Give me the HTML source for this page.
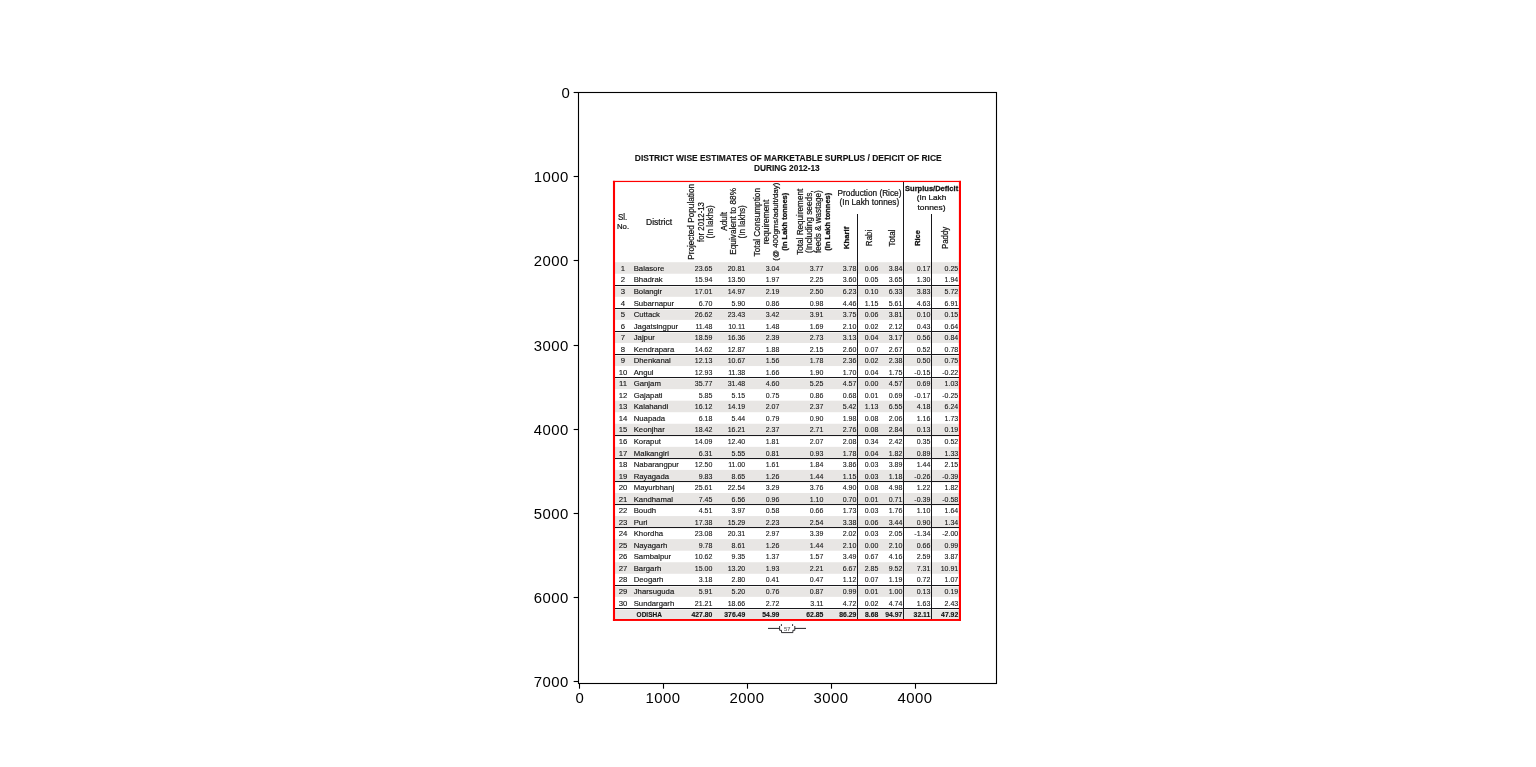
<!DOCTYPE html>
<html lang="en">
<head>
<meta charset="utf-8">
<title>Figure 1</title>
<style>
html,body{margin:0;padding:0;background:#fff;overflow:hidden}
body{width:1536px;height:767px;font-family:"Liberation Sans", sans-serif}
svg{display:block;position:absolute;left:0;top:0}
svg text{font-family:"Liberation Sans", sans-serif;white-space:pre}
</style>
</head>
<body>
<svg style="will-change:transform" width="1536" height="767" viewBox="0 0 1536 767">
<rect x="0" y="0" width="1536" height="767" fill="#fff"/>
<rect x="614.0" y="262.20" width="346.0" height="11.54" fill="#e8e6e4"/>
<rect x="614.0" y="285.28" width="346.0" height="11.54" fill="#e8e6e4"/>
<rect x="614.0" y="308.36" width="346.0" height="11.54" fill="#e8e6e4"/>
<rect x="614.0" y="331.44" width="346.0" height="11.54" fill="#e8e6e4"/>
<rect x="614.0" y="354.52" width="346.0" height="11.54" fill="#e8e6e4"/>
<rect x="614.0" y="377.60" width="346.0" height="11.54" fill="#e8e6e4"/>
<rect x="614.0" y="400.68" width="346.0" height="11.54" fill="#e8e6e4"/>
<rect x="614.0" y="423.76" width="346.0" height="11.54" fill="#e8e6e4"/>
<rect x="614.0" y="446.84" width="346.0" height="11.54" fill="#e8e6e4"/>
<rect x="614.0" y="469.92" width="346.0" height="11.54" fill="#e8e6e4"/>
<rect x="614.0" y="493.00" width="346.0" height="11.54" fill="#e8e6e4"/>
<rect x="614.0" y="516.08" width="346.0" height="11.54" fill="#e8e6e4"/>
<rect x="614.0" y="539.16" width="346.0" height="11.54" fill="#e8e6e4"/>
<rect x="614.0" y="562.24" width="346.0" height="11.54" fill="#e8e6e4"/>
<rect x="614.0" y="585.32" width="346.0" height="11.54" fill="#e8e6e4"/>
<rect x="614.0" y="608.40" width="346.0" height="11.60" fill="#e8e6e4"/>
<rect x="615" y="285" width="344" height="1" fill="#18181c" shape-rendering="crispEdges"/>
<rect x="615" y="286" width="344" height="1.1" fill="#f5f4f2" shape-rendering="crispEdges"/>
<rect x="615" y="308" width="344" height="1" fill="#18181c" shape-rendering="crispEdges"/>
<rect x="615" y="309" width="344" height="1.1" fill="#f5f4f2" shape-rendering="crispEdges"/>
<rect x="615" y="331" width="344" height="1" fill="#18181c" shape-rendering="crispEdges"/>
<rect x="615" y="332" width="344" height="1.1" fill="#f5f4f2" shape-rendering="crispEdges"/>
<rect x="615" y="354" width="344" height="1" fill="#18181c" shape-rendering="crispEdges"/>
<rect x="615" y="355" width="344" height="1.1" fill="#f5f4f2" shape-rendering="crispEdges"/>
<rect x="615" y="377" width="344" height="1" fill="#18181c" shape-rendering="crispEdges"/>
<rect x="615" y="378" width="344" height="1.1" fill="#f5f4f2" shape-rendering="crispEdges"/>
<rect x="615" y="435" width="344" height="1" fill="#18181c" shape-rendering="crispEdges"/>
<rect x="615" y="436" width="344" height="1.1" fill="#f5f4f2" shape-rendering="crispEdges"/>
<rect x="615" y="458" width="344" height="1" fill="#18181c" shape-rendering="crispEdges"/>
<rect x="615" y="459" width="344" height="1.1" fill="#f5f4f2" shape-rendering="crispEdges"/>
<rect x="615" y="481" width="344" height="1" fill="#18181c" shape-rendering="crispEdges"/>
<rect x="615" y="482" width="344" height="1.1" fill="#f5f4f2" shape-rendering="crispEdges"/>
<rect x="615" y="504" width="344" height="1" fill="#18181c" shape-rendering="crispEdges"/>
<rect x="615" y="505" width="344" height="1.1" fill="#f5f4f2" shape-rendering="crispEdges"/>
<rect x="615" y="527" width="344" height="1" fill="#18181c" shape-rendering="crispEdges"/>
<rect x="615" y="528" width="344" height="1.1" fill="#f5f4f2" shape-rendering="crispEdges"/>
<rect x="615" y="585" width="344" height="1" fill="#18181c" shape-rendering="crispEdges"/>
<rect x="615" y="586" width="344" height="1.1" fill="#f5f4f2" shape-rendering="crispEdges"/>
<rect x="615" y="608" width="344" height="1" fill="#18181c" shape-rendering="crispEdges"/>
<rect x="615" y="609" width="344" height="1.1" fill="#f5f4f2" shape-rendering="crispEdges"/>
<rect x="857" y="214" width="1" height="406" fill="#18181c" shape-rendering="crispEdges"/>
<rect x="903" y="182" width="1" height="438" fill="#18181c" shape-rendering="crispEdges"/>
<rect x="931" y="214" width="1" height="406" fill="#18181c" shape-rendering="crispEdges"/>
<text transform="translate(788.20,160.70)" font-size="8.5" text-anchor="middle" fill="#141414" font-weight="700" stroke="#141414" stroke-width="0.12" textLength="306.80" lengthAdjust="spacingAndGlyphs">DISTRICT WISE ESTIMATES OF MARKETABLE SURPLUS / DEFICIT OF RICE</text>
<text transform="translate(786.80,170.70)" font-size="8.5" text-anchor="middle" fill="#141414" font-weight="700" stroke="#141414" stroke-width="0.12" textLength="65.80" lengthAdjust="spacingAndGlyphs">DURING 2012-13</text>
<text transform="translate(617.90,220.00)" font-size="8.2" text-anchor="start" fill="#141414" stroke="#141414" stroke-width="0.22" textLength="9.30" lengthAdjust="spacingAndGlyphs">Sl.</text>
<text transform="translate(617.00,229.00)" font-size="7.4" text-anchor="start" fill="#141414" stroke="#141414" stroke-width="0.22" textLength="12.10" lengthAdjust="spacingAndGlyphs">No.</text>
<text transform="translate(646.00,224.90)" font-size="8.2" text-anchor="start" fill="#141414" stroke="#141414" stroke-width="0.22" textLength="26.00" lengthAdjust="spacingAndGlyphs">District</text>
<text transform="translate(693.80,221.90) rotate(-90)" font-size="8.2" text-anchor="middle" fill="#141414" stroke="#141414" stroke-width="0.22" textLength="75.90" lengthAdjust="spacingAndGlyphs">Projected Population</text>
<text transform="translate(703.50,222.00) rotate(-90)" font-size="8.2" text-anchor="middle" fill="#141414" stroke="#141414" stroke-width="0.22" textLength="39.90" lengthAdjust="spacingAndGlyphs">for 2012-13</text>
<text transform="translate(713.20,221.80) rotate(-90)" font-size="8.2" text-anchor="middle" fill="#141414" stroke="#141414" stroke-width="0.22" textLength="33.20" lengthAdjust="spacingAndGlyphs">(In lakhs)</text>
<text transform="translate(726.70,221.40) rotate(-90)" font-size="8.2" text-anchor="middle" fill="#141414" stroke="#141414" stroke-width="0.22" textLength="18.80" lengthAdjust="spacingAndGlyphs">Adult</text>
<text transform="translate(736.10,221.40) rotate(-90)" font-size="8.2" text-anchor="middle" fill="#141414" stroke="#141414" stroke-width="0.22" textLength="66.80" lengthAdjust="spacingAndGlyphs">Equivalent to 88%</text>
<text transform="translate(745.30,221.80) rotate(-90)" font-size="8.2" text-anchor="middle" fill="#141414" stroke="#141414" stroke-width="0.22" textLength="33.20" lengthAdjust="spacingAndGlyphs">(In lakhs)</text>
<text transform="translate(759.50,222.20) rotate(-90)" font-size="8.2" text-anchor="middle" fill="#141414" stroke="#141414" stroke-width="0.22" textLength="68.40" lengthAdjust="spacingAndGlyphs">Total Consumption</text>
<text transform="translate(768.90,222.00) rotate(-90)" font-size="8.2" text-anchor="middle" fill="#141414" stroke="#141414" stroke-width="0.22" textLength="44.60" lengthAdjust="spacingAndGlyphs">requirement</text>
<text transform="translate(778.30,221.70) rotate(-90)" font-size="7.5" text-anchor="middle" fill="#141414" stroke="#141414" stroke-width="0.22" textLength="78.00" lengthAdjust="spacingAndGlyphs">(@ 400gms/adult/day)</text>
<text transform="translate(787.30,221.70) rotate(-90)" font-size="7.5" text-anchor="middle" fill="#141414" font-weight="700" stroke="#141414" stroke-width="0.3" textLength="58.00" lengthAdjust="spacingAndGlyphs">(In Lakh tonnes)</text>
<text transform="translate(802.60,221.80) rotate(-90)" font-size="8.2" text-anchor="middle" fill="#141414" stroke="#141414" stroke-width="0.22" textLength="66.00" lengthAdjust="spacingAndGlyphs">Total Requirement</text>
<text transform="translate(812.00,221.70) rotate(-90)" font-size="8.2" text-anchor="middle" fill="#141414" stroke="#141414" stroke-width="0.22" textLength="62.70" lengthAdjust="spacingAndGlyphs">(Including seeds,</text>
<text transform="translate(820.50,221.70) rotate(-90)" font-size="8.2" text-anchor="middle" fill="#141414" stroke="#141414" stroke-width="0.22" textLength="62.70" lengthAdjust="spacingAndGlyphs">feeds &amp; wastage)</text>
<text transform="translate(829.60,221.70) rotate(-90)" font-size="7.5" text-anchor="middle" fill="#141414" font-weight="700" stroke="#141414" stroke-width="0.3" textLength="58.00" lengthAdjust="spacingAndGlyphs">(In Lakh tonnes)</text>
<text transform="translate(848.80,237.90) rotate(-90)" font-size="7.5" text-anchor="middle" fill="#141414" font-weight="700" stroke="#141414" stroke-width="0.3" textLength="22.30" lengthAdjust="spacingAndGlyphs">Kharif</text>
<text transform="translate(871.70,237.90) rotate(-90)" font-size="8.2" text-anchor="middle" fill="#141414" stroke="#141414" stroke-width="0.22" textLength="16.50" lengthAdjust="spacingAndGlyphs">Rabi</text>
<text transform="translate(894.50,238.00) rotate(-90)" font-size="8.2" text-anchor="middle" fill="#141414" stroke="#141414" stroke-width="0.22" textLength="16.80" lengthAdjust="spacingAndGlyphs">Total</text>
<text transform="translate(920.40,238.00) rotate(-90)" font-size="7.5" text-anchor="middle" fill="#141414" font-weight="700" stroke="#141414" stroke-width="0.3" textLength="15.60" lengthAdjust="spacingAndGlyphs">Rice</text>
<text transform="translate(947.90,237.90) rotate(-90)" font-size="8.2" text-anchor="middle" fill="#141414" stroke="#141414" stroke-width="0.22" textLength="22.30" lengthAdjust="spacingAndGlyphs">Paddy</text>
<text transform="translate(869.50,196.20)" font-size="8.2" text-anchor="middle" fill="#141414" stroke="#141414" stroke-width="0.22" textLength="63.80" lengthAdjust="spacingAndGlyphs">Production (Rice)</text>
<text transform="translate(869.40,205.00)" font-size="8.2" text-anchor="middle" fill="#141414" stroke="#141414" stroke-width="0.22" textLength="59.60" lengthAdjust="spacingAndGlyphs">(In Lakh tonnes)</text>
<text transform="translate(931.60,190.70)" font-size="7.8" text-anchor="middle" fill="#141414" font-weight="700" stroke="#141414" stroke-width="0.3" textLength="53.10" lengthAdjust="spacingAndGlyphs">Surplus/Deficit</text>
<text transform="translate(931.50,200.30)" font-size="7.2" text-anchor="middle" fill="#141414" stroke="#141414" stroke-width="0.22" textLength="29.40" lengthAdjust="spacingAndGlyphs">(In Lakh</text>
<text transform="translate(931.50,209.70)" font-size="7.2" text-anchor="middle" fill="#141414" stroke="#141414" stroke-width="0.22" textLength="28.20" lengthAdjust="spacingAndGlyphs">tonnes)</text>
<text transform="translate(623.00,270.90)" font-size="7.75" text-anchor="middle" fill="#141414" stroke="#141414" stroke-width="0.12">1</text>
<text transform="translate(633.70,270.90)" font-size="7.75" text-anchor="start" fill="#141414" stroke="#141414" stroke-width="0.15">Balasore</text>
<text transform="translate(712.40,270.90) scale(0.905,1)" font-size="7.75" text-anchor="end" fill="#141414" stroke="#141414" stroke-width="0.1">23.65</text>
<text transform="translate(745.20,270.90) scale(0.905,1)" font-size="7.75" text-anchor="end" fill="#141414" stroke="#141414" stroke-width="0.1">20.81</text>
<text transform="translate(779.40,270.90) scale(0.905,1)" font-size="7.75" text-anchor="end" fill="#141414" stroke="#141414" stroke-width="0.1">3.04</text>
<text transform="translate(823.40,270.90) scale(0.905,1)" font-size="7.75" text-anchor="end" fill="#141414" stroke="#141414" stroke-width="0.1">3.77</text>
<text transform="translate(856.40,270.90) scale(0.905,1)" font-size="7.75" text-anchor="end" fill="#141414" stroke="#141414" stroke-width="0.1">3.78</text>
<text transform="translate(878.30,270.90) scale(0.905,1)" font-size="7.75" text-anchor="end" fill="#141414" stroke="#141414" stroke-width="0.1">0.06</text>
<text transform="translate(902.30,270.90) scale(0.905,1)" font-size="7.75" text-anchor="end" fill="#141414" stroke="#141414" stroke-width="0.1">3.84</text>
<text transform="translate(930.30,270.90) scale(0.905,1)" font-size="7.75" text-anchor="end" fill="#141414" stroke="#141414" stroke-width="0.1">0.17</text>
<text transform="translate(958.20,270.90) scale(0.905,1)" font-size="7.75" text-anchor="end" fill="#141414" stroke="#141414" stroke-width="0.1">0.25</text>
<text transform="translate(623.00,282.44)" font-size="7.75" text-anchor="middle" fill="#141414" stroke="#141414" stroke-width="0.12">2</text>
<text transform="translate(633.70,282.44)" font-size="7.75" text-anchor="start" fill="#141414" stroke="#141414" stroke-width="0.15">Bhadrak</text>
<text transform="translate(712.40,282.44) scale(0.905,1)" font-size="7.75" text-anchor="end" fill="#141414" stroke="#141414" stroke-width="0.1">15.94</text>
<text transform="translate(745.20,282.44) scale(0.905,1)" font-size="7.75" text-anchor="end" fill="#141414" stroke="#141414" stroke-width="0.1">13.50</text>
<text transform="translate(779.40,282.44) scale(0.905,1)" font-size="7.75" text-anchor="end" fill="#141414" stroke="#141414" stroke-width="0.1">1.97</text>
<text transform="translate(823.40,282.44) scale(0.905,1)" font-size="7.75" text-anchor="end" fill="#141414" stroke="#141414" stroke-width="0.1">2.25</text>
<text transform="translate(856.40,282.44) scale(0.905,1)" font-size="7.75" text-anchor="end" fill="#141414" stroke="#141414" stroke-width="0.1">3.60</text>
<text transform="translate(878.30,282.44) scale(0.905,1)" font-size="7.75" text-anchor="end" fill="#141414" stroke="#141414" stroke-width="0.1">0.05</text>
<text transform="translate(902.30,282.44) scale(0.905,1)" font-size="7.75" text-anchor="end" fill="#141414" stroke="#141414" stroke-width="0.1">3.65</text>
<text transform="translate(930.30,282.44) scale(0.905,1)" font-size="7.75" text-anchor="end" fill="#141414" stroke="#141414" stroke-width="0.1">1.30</text>
<text transform="translate(958.20,282.44) scale(0.905,1)" font-size="7.75" text-anchor="end" fill="#141414" stroke="#141414" stroke-width="0.1">1.94</text>
<text transform="translate(623.00,293.98)" font-size="7.75" text-anchor="middle" fill="#141414" stroke="#141414" stroke-width="0.12">3</text>
<text transform="translate(633.70,293.98)" font-size="7.75" text-anchor="start" fill="#141414" stroke="#141414" stroke-width="0.15">Bolangir</text>
<text transform="translate(712.40,293.98) scale(0.905,1)" font-size="7.75" text-anchor="end" fill="#141414" stroke="#141414" stroke-width="0.1">17.01</text>
<text transform="translate(745.20,293.98) scale(0.905,1)" font-size="7.75" text-anchor="end" fill="#141414" stroke="#141414" stroke-width="0.1">14.97</text>
<text transform="translate(779.40,293.98) scale(0.905,1)" font-size="7.75" text-anchor="end" fill="#141414" stroke="#141414" stroke-width="0.1">2.19</text>
<text transform="translate(823.40,293.98) scale(0.905,1)" font-size="7.75" text-anchor="end" fill="#141414" stroke="#141414" stroke-width="0.1">2.50</text>
<text transform="translate(856.40,293.98) scale(0.905,1)" font-size="7.75" text-anchor="end" fill="#141414" stroke="#141414" stroke-width="0.1">6.23</text>
<text transform="translate(878.30,293.98) scale(0.905,1)" font-size="7.75" text-anchor="end" fill="#141414" stroke="#141414" stroke-width="0.1">0.10</text>
<text transform="translate(902.30,293.98) scale(0.905,1)" font-size="7.75" text-anchor="end" fill="#141414" stroke="#141414" stroke-width="0.1">6.33</text>
<text transform="translate(930.30,293.98) scale(0.905,1)" font-size="7.75" text-anchor="end" fill="#141414" stroke="#141414" stroke-width="0.1">3.83</text>
<text transform="translate(958.20,293.98) scale(0.905,1)" font-size="7.75" text-anchor="end" fill="#141414" stroke="#141414" stroke-width="0.1">5.72</text>
<text transform="translate(623.00,305.52)" font-size="7.75" text-anchor="middle" fill="#141414" stroke="#141414" stroke-width="0.12">4</text>
<text transform="translate(633.70,305.52)" font-size="7.75" text-anchor="start" fill="#141414" stroke="#141414" stroke-width="0.15">Subarnapur</text>
<text transform="translate(712.40,305.52) scale(0.905,1)" font-size="7.75" text-anchor="end" fill="#141414" stroke="#141414" stroke-width="0.1">6.70</text>
<text transform="translate(745.20,305.52) scale(0.905,1)" font-size="7.75" text-anchor="end" fill="#141414" stroke="#141414" stroke-width="0.1">5.90</text>
<text transform="translate(779.40,305.52) scale(0.905,1)" font-size="7.75" text-anchor="end" fill="#141414" stroke="#141414" stroke-width="0.1">0.86</text>
<text transform="translate(823.40,305.52) scale(0.905,1)" font-size="7.75" text-anchor="end" fill="#141414" stroke="#141414" stroke-width="0.1">0.98</text>
<text transform="translate(856.40,305.52) scale(0.905,1)" font-size="7.75" text-anchor="end" fill="#141414" stroke="#141414" stroke-width="0.1">4.46</text>
<text transform="translate(878.30,305.52) scale(0.905,1)" font-size="7.75" text-anchor="end" fill="#141414" stroke="#141414" stroke-width="0.1">1.15</text>
<text transform="translate(902.30,305.52) scale(0.905,1)" font-size="7.75" text-anchor="end" fill="#141414" stroke="#141414" stroke-width="0.1">5.61</text>
<text transform="translate(930.30,305.52) scale(0.905,1)" font-size="7.75" text-anchor="end" fill="#141414" stroke="#141414" stroke-width="0.1">4.63</text>
<text transform="translate(958.20,305.52) scale(0.905,1)" font-size="7.75" text-anchor="end" fill="#141414" stroke="#141414" stroke-width="0.1">6.91</text>
<text transform="translate(623.00,317.06)" font-size="7.75" text-anchor="middle" fill="#141414" stroke="#141414" stroke-width="0.12">5</text>
<text transform="translate(633.70,317.06)" font-size="7.75" text-anchor="start" fill="#141414" stroke="#141414" stroke-width="0.15">Cuttack</text>
<text transform="translate(712.40,317.06) scale(0.905,1)" font-size="7.75" text-anchor="end" fill="#141414" stroke="#141414" stroke-width="0.1">26.62</text>
<text transform="translate(745.20,317.06) scale(0.905,1)" font-size="7.75" text-anchor="end" fill="#141414" stroke="#141414" stroke-width="0.1">23.43</text>
<text transform="translate(779.40,317.06) scale(0.905,1)" font-size="7.75" text-anchor="end" fill="#141414" stroke="#141414" stroke-width="0.1">3.42</text>
<text transform="translate(823.40,317.06) scale(0.905,1)" font-size="7.75" text-anchor="end" fill="#141414" stroke="#141414" stroke-width="0.1">3.91</text>
<text transform="translate(856.40,317.06) scale(0.905,1)" font-size="7.75" text-anchor="end" fill="#141414" stroke="#141414" stroke-width="0.1">3.75</text>
<text transform="translate(878.30,317.06) scale(0.905,1)" font-size="7.75" text-anchor="end" fill="#141414" stroke="#141414" stroke-width="0.1">0.06</text>
<text transform="translate(902.30,317.06) scale(0.905,1)" font-size="7.75" text-anchor="end" fill="#141414" stroke="#141414" stroke-width="0.1">3.81</text>
<text transform="translate(930.30,317.06) scale(0.905,1)" font-size="7.75" text-anchor="end" fill="#141414" stroke="#141414" stroke-width="0.1">0.10</text>
<text transform="translate(958.20,317.06) scale(0.905,1)" font-size="7.75" text-anchor="end" fill="#141414" stroke="#141414" stroke-width="0.1">0.15</text>
<text transform="translate(623.00,328.60)" font-size="7.75" text-anchor="middle" fill="#141414" stroke="#141414" stroke-width="0.12">6</text>
<text transform="translate(633.70,328.60)" font-size="7.75" text-anchor="start" fill="#141414" stroke="#141414" stroke-width="0.15">Jagatsingpur</text>
<text transform="translate(712.40,328.60) scale(0.905,1)" font-size="7.75" text-anchor="end" fill="#141414" stroke="#141414" stroke-width="0.1">11.48</text>
<text transform="translate(745.20,328.60) scale(0.905,1)" font-size="7.75" text-anchor="end" fill="#141414" stroke="#141414" stroke-width="0.1">10.11</text>
<text transform="translate(779.40,328.60) scale(0.905,1)" font-size="7.75" text-anchor="end" fill="#141414" stroke="#141414" stroke-width="0.1">1.48</text>
<text transform="translate(823.40,328.60) scale(0.905,1)" font-size="7.75" text-anchor="end" fill="#141414" stroke="#141414" stroke-width="0.1">1.69</text>
<text transform="translate(856.40,328.60) scale(0.905,1)" font-size="7.75" text-anchor="end" fill="#141414" stroke="#141414" stroke-width="0.1">2.10</text>
<text transform="translate(878.30,328.60) scale(0.905,1)" font-size="7.75" text-anchor="end" fill="#141414" stroke="#141414" stroke-width="0.1">0.02</text>
<text transform="translate(902.30,328.60) scale(0.905,1)" font-size="7.75" text-anchor="end" fill="#141414" stroke="#141414" stroke-width="0.1">2.12</text>
<text transform="translate(930.30,328.60) scale(0.905,1)" font-size="7.75" text-anchor="end" fill="#141414" stroke="#141414" stroke-width="0.1">0.43</text>
<text transform="translate(958.20,328.60) scale(0.905,1)" font-size="7.75" text-anchor="end" fill="#141414" stroke="#141414" stroke-width="0.1">0.64</text>
<text transform="translate(623.00,340.14)" font-size="7.75" text-anchor="middle" fill="#141414" stroke="#141414" stroke-width="0.12">7</text>
<text transform="translate(633.70,340.14)" font-size="7.75" text-anchor="start" fill="#141414" stroke="#141414" stroke-width="0.15">Jajpur</text>
<text transform="translate(712.40,340.14) scale(0.905,1)" font-size="7.75" text-anchor="end" fill="#141414" stroke="#141414" stroke-width="0.1">18.59</text>
<text transform="translate(745.20,340.14) scale(0.905,1)" font-size="7.75" text-anchor="end" fill="#141414" stroke="#141414" stroke-width="0.1">16.36</text>
<text transform="translate(779.40,340.14) scale(0.905,1)" font-size="7.75" text-anchor="end" fill="#141414" stroke="#141414" stroke-width="0.1">2.39</text>
<text transform="translate(823.40,340.14) scale(0.905,1)" font-size="7.75" text-anchor="end" fill="#141414" stroke="#141414" stroke-width="0.1">2.73</text>
<text transform="translate(856.40,340.14) scale(0.905,1)" font-size="7.75" text-anchor="end" fill="#141414" stroke="#141414" stroke-width="0.1">3.13</text>
<text transform="translate(878.30,340.14) scale(0.905,1)" font-size="7.75" text-anchor="end" fill="#141414" stroke="#141414" stroke-width="0.1">0.04</text>
<text transform="translate(902.30,340.14) scale(0.905,1)" font-size="7.75" text-anchor="end" fill="#141414" stroke="#141414" stroke-width="0.1">3.17</text>
<text transform="translate(930.30,340.14) scale(0.905,1)" font-size="7.75" text-anchor="end" fill="#141414" stroke="#141414" stroke-width="0.1">0.56</text>
<text transform="translate(958.20,340.14) scale(0.905,1)" font-size="7.75" text-anchor="end" fill="#141414" stroke="#141414" stroke-width="0.1">0.84</text>
<text transform="translate(623.00,351.68)" font-size="7.75" text-anchor="middle" fill="#141414" stroke="#141414" stroke-width="0.12">8</text>
<text transform="translate(633.70,351.68)" font-size="7.75" text-anchor="start" fill="#141414" stroke="#141414" stroke-width="0.15">Kendrapara</text>
<text transform="translate(712.40,351.68) scale(0.905,1)" font-size="7.75" text-anchor="end" fill="#141414" stroke="#141414" stroke-width="0.1">14.62</text>
<text transform="translate(745.20,351.68) scale(0.905,1)" font-size="7.75" text-anchor="end" fill="#141414" stroke="#141414" stroke-width="0.1">12.87</text>
<text transform="translate(779.40,351.68) scale(0.905,1)" font-size="7.75" text-anchor="end" fill="#141414" stroke="#141414" stroke-width="0.1">1.88</text>
<text transform="translate(823.40,351.68) scale(0.905,1)" font-size="7.75" text-anchor="end" fill="#141414" stroke="#141414" stroke-width="0.1">2.15</text>
<text transform="translate(856.40,351.68) scale(0.905,1)" font-size="7.75" text-anchor="end" fill="#141414" stroke="#141414" stroke-width="0.1">2.60</text>
<text transform="translate(878.30,351.68) scale(0.905,1)" font-size="7.75" text-anchor="end" fill="#141414" stroke="#141414" stroke-width="0.1">0.07</text>
<text transform="translate(902.30,351.68) scale(0.905,1)" font-size="7.75" text-anchor="end" fill="#141414" stroke="#141414" stroke-width="0.1">2.67</text>
<text transform="translate(930.30,351.68) scale(0.905,1)" font-size="7.75" text-anchor="end" fill="#141414" stroke="#141414" stroke-width="0.1">0.52</text>
<text transform="translate(958.20,351.68) scale(0.905,1)" font-size="7.75" text-anchor="end" fill="#141414" stroke="#141414" stroke-width="0.1">0.78</text>
<text transform="translate(623.00,363.22)" font-size="7.75" text-anchor="middle" fill="#141414" stroke="#141414" stroke-width="0.12">9</text>
<text transform="translate(633.70,363.22)" font-size="7.75" text-anchor="start" fill="#141414" stroke="#141414" stroke-width="0.15">Dhenkanal</text>
<text transform="translate(712.40,363.22) scale(0.905,1)" font-size="7.75" text-anchor="end" fill="#141414" stroke="#141414" stroke-width="0.1">12.13</text>
<text transform="translate(745.20,363.22) scale(0.905,1)" font-size="7.75" text-anchor="end" fill="#141414" stroke="#141414" stroke-width="0.1">10.67</text>
<text transform="translate(779.40,363.22) scale(0.905,1)" font-size="7.75" text-anchor="end" fill="#141414" stroke="#141414" stroke-width="0.1">1.56</text>
<text transform="translate(823.40,363.22) scale(0.905,1)" font-size="7.75" text-anchor="end" fill="#141414" stroke="#141414" stroke-width="0.1">1.78</text>
<text transform="translate(856.40,363.22) scale(0.905,1)" font-size="7.75" text-anchor="end" fill="#141414" stroke="#141414" stroke-width="0.1">2.36</text>
<text transform="translate(878.30,363.22) scale(0.905,1)" font-size="7.75" text-anchor="end" fill="#141414" stroke="#141414" stroke-width="0.1">0.02</text>
<text transform="translate(902.30,363.22) scale(0.905,1)" font-size="7.75" text-anchor="end" fill="#141414" stroke="#141414" stroke-width="0.1">2.38</text>
<text transform="translate(930.30,363.22) scale(0.905,1)" font-size="7.75" text-anchor="end" fill="#141414" stroke="#141414" stroke-width="0.1">0.50</text>
<text transform="translate(958.20,363.22) scale(0.905,1)" font-size="7.75" text-anchor="end" fill="#141414" stroke="#141414" stroke-width="0.1">0.75</text>
<text transform="translate(623.00,374.76)" font-size="7.75" text-anchor="middle" fill="#141414" stroke="#141414" stroke-width="0.12">10</text>
<text transform="translate(633.70,374.76)" font-size="7.75" text-anchor="start" fill="#141414" stroke="#141414" stroke-width="0.15">Angul</text>
<text transform="translate(712.40,374.76) scale(0.905,1)" font-size="7.75" text-anchor="end" fill="#141414" stroke="#141414" stroke-width="0.1">12.93</text>
<text transform="translate(745.20,374.76) scale(0.905,1)" font-size="7.75" text-anchor="end" fill="#141414" stroke="#141414" stroke-width="0.1">11.38</text>
<text transform="translate(779.40,374.76) scale(0.905,1)" font-size="7.75" text-anchor="end" fill="#141414" stroke="#141414" stroke-width="0.1">1.66</text>
<text transform="translate(823.40,374.76) scale(0.905,1)" font-size="7.75" text-anchor="end" fill="#141414" stroke="#141414" stroke-width="0.1">1.90</text>
<text transform="translate(856.40,374.76) scale(0.905,1)" font-size="7.75" text-anchor="end" fill="#141414" stroke="#141414" stroke-width="0.1">1.70</text>
<text transform="translate(878.30,374.76) scale(0.905,1)" font-size="7.75" text-anchor="end" fill="#141414" stroke="#141414" stroke-width="0.1">0.04</text>
<text transform="translate(902.30,374.76) scale(0.905,1)" font-size="7.75" text-anchor="end" fill="#141414" stroke="#141414" stroke-width="0.1">1.75</text>
<text transform="translate(930.30,374.76) scale(0.905,1)" font-size="7.75" text-anchor="end" fill="#141414" stroke="#141414" stroke-width="0.1">-0.15</text>
<text transform="translate(958.20,374.76) scale(0.905,1)" font-size="7.75" text-anchor="end" fill="#141414" stroke="#141414" stroke-width="0.1">-0.22</text>
<text transform="translate(623.00,386.30)" font-size="7.75" text-anchor="middle" fill="#141414" stroke="#141414" stroke-width="0.12">11</text>
<text transform="translate(633.70,386.30)" font-size="7.75" text-anchor="start" fill="#141414" stroke="#141414" stroke-width="0.15">Ganjam</text>
<text transform="translate(712.40,386.30) scale(0.905,1)" font-size="7.75" text-anchor="end" fill="#141414" stroke="#141414" stroke-width="0.1">35.77</text>
<text transform="translate(745.20,386.30) scale(0.905,1)" font-size="7.75" text-anchor="end" fill="#141414" stroke="#141414" stroke-width="0.1">31.48</text>
<text transform="translate(779.40,386.30) scale(0.905,1)" font-size="7.75" text-anchor="end" fill="#141414" stroke="#141414" stroke-width="0.1">4.60</text>
<text transform="translate(823.40,386.30) scale(0.905,1)" font-size="7.75" text-anchor="end" fill="#141414" stroke="#141414" stroke-width="0.1">5.25</text>
<text transform="translate(856.40,386.30) scale(0.905,1)" font-size="7.75" text-anchor="end" fill="#141414" stroke="#141414" stroke-width="0.1">4.57</text>
<text transform="translate(878.30,386.30) scale(0.905,1)" font-size="7.75" text-anchor="end" fill="#141414" stroke="#141414" stroke-width="0.1">0.00</text>
<text transform="translate(902.30,386.30) scale(0.905,1)" font-size="7.75" text-anchor="end" fill="#141414" stroke="#141414" stroke-width="0.1">4.57</text>
<text transform="translate(930.30,386.30) scale(0.905,1)" font-size="7.75" text-anchor="end" fill="#141414" stroke="#141414" stroke-width="0.1">0.69</text>
<text transform="translate(958.20,386.30) scale(0.905,1)" font-size="7.75" text-anchor="end" fill="#141414" stroke="#141414" stroke-width="0.1">1.03</text>
<text transform="translate(623.00,397.84)" font-size="7.75" text-anchor="middle" fill="#141414" stroke="#141414" stroke-width="0.12">12</text>
<text transform="translate(633.70,397.84)" font-size="7.75" text-anchor="start" fill="#141414" stroke="#141414" stroke-width="0.15">Gajapati</text>
<text transform="translate(712.40,397.84) scale(0.905,1)" font-size="7.75" text-anchor="end" fill="#141414" stroke="#141414" stroke-width="0.1">5.85</text>
<text transform="translate(745.20,397.84) scale(0.905,1)" font-size="7.75" text-anchor="end" fill="#141414" stroke="#141414" stroke-width="0.1">5.15</text>
<text transform="translate(779.40,397.84) scale(0.905,1)" font-size="7.75" text-anchor="end" fill="#141414" stroke="#141414" stroke-width="0.1">0.75</text>
<text transform="translate(823.40,397.84) scale(0.905,1)" font-size="7.75" text-anchor="end" fill="#141414" stroke="#141414" stroke-width="0.1">0.86</text>
<text transform="translate(856.40,397.84) scale(0.905,1)" font-size="7.75" text-anchor="end" fill="#141414" stroke="#141414" stroke-width="0.1">0.68</text>
<text transform="translate(878.30,397.84) scale(0.905,1)" font-size="7.75" text-anchor="end" fill="#141414" stroke="#141414" stroke-width="0.1">0.01</text>
<text transform="translate(902.30,397.84) scale(0.905,1)" font-size="7.75" text-anchor="end" fill="#141414" stroke="#141414" stroke-width="0.1">0.69</text>
<text transform="translate(930.30,397.84) scale(0.905,1)" font-size="7.75" text-anchor="end" fill="#141414" stroke="#141414" stroke-width="0.1">-0.17</text>
<text transform="translate(958.20,397.84) scale(0.905,1)" font-size="7.75" text-anchor="end" fill="#141414" stroke="#141414" stroke-width="0.1">-0.25</text>
<text transform="translate(623.00,409.38)" font-size="7.75" text-anchor="middle" fill="#141414" stroke="#141414" stroke-width="0.12">13</text>
<text transform="translate(633.70,409.38)" font-size="7.75" text-anchor="start" fill="#141414" stroke="#141414" stroke-width="0.15">Kalahandi</text>
<text transform="translate(712.40,409.38) scale(0.905,1)" font-size="7.75" text-anchor="end" fill="#141414" stroke="#141414" stroke-width="0.1">16.12</text>
<text transform="translate(745.20,409.38) scale(0.905,1)" font-size="7.75" text-anchor="end" fill="#141414" stroke="#141414" stroke-width="0.1">14.19</text>
<text transform="translate(779.40,409.38) scale(0.905,1)" font-size="7.75" text-anchor="end" fill="#141414" stroke="#141414" stroke-width="0.1">2.07</text>
<text transform="translate(823.40,409.38) scale(0.905,1)" font-size="7.75" text-anchor="end" fill="#141414" stroke="#141414" stroke-width="0.1">2.37</text>
<text transform="translate(856.40,409.38) scale(0.905,1)" font-size="7.75" text-anchor="end" fill="#141414" stroke="#141414" stroke-width="0.1">5.42</text>
<text transform="translate(878.30,409.38) scale(0.905,1)" font-size="7.75" text-anchor="end" fill="#141414" stroke="#141414" stroke-width="0.1">1.13</text>
<text transform="translate(902.30,409.38) scale(0.905,1)" font-size="7.75" text-anchor="end" fill="#141414" stroke="#141414" stroke-width="0.1">6.55</text>
<text transform="translate(930.30,409.38) scale(0.905,1)" font-size="7.75" text-anchor="end" fill="#141414" stroke="#141414" stroke-width="0.1">4.18</text>
<text transform="translate(958.20,409.38) scale(0.905,1)" font-size="7.75" text-anchor="end" fill="#141414" stroke="#141414" stroke-width="0.1">6.24</text>
<text transform="translate(623.00,420.92)" font-size="7.75" text-anchor="middle" fill="#141414" stroke="#141414" stroke-width="0.12">14</text>
<text transform="translate(633.70,420.92)" font-size="7.75" text-anchor="start" fill="#141414" stroke="#141414" stroke-width="0.15">Nuapada</text>
<text transform="translate(712.40,420.92) scale(0.905,1)" font-size="7.75" text-anchor="end" fill="#141414" stroke="#141414" stroke-width="0.1">6.18</text>
<text transform="translate(745.20,420.92) scale(0.905,1)" font-size="7.75" text-anchor="end" fill="#141414" stroke="#141414" stroke-width="0.1">5.44</text>
<text transform="translate(779.40,420.92) scale(0.905,1)" font-size="7.75" text-anchor="end" fill="#141414" stroke="#141414" stroke-width="0.1">0.79</text>
<text transform="translate(823.40,420.92) scale(0.905,1)" font-size="7.75" text-anchor="end" fill="#141414" stroke="#141414" stroke-width="0.1">0.90</text>
<text transform="translate(856.40,420.92) scale(0.905,1)" font-size="7.75" text-anchor="end" fill="#141414" stroke="#141414" stroke-width="0.1">1.98</text>
<text transform="translate(878.30,420.92) scale(0.905,1)" font-size="7.75" text-anchor="end" fill="#141414" stroke="#141414" stroke-width="0.1">0.08</text>
<text transform="translate(902.30,420.92) scale(0.905,1)" font-size="7.75" text-anchor="end" fill="#141414" stroke="#141414" stroke-width="0.1">2.06</text>
<text transform="translate(930.30,420.92) scale(0.905,1)" font-size="7.75" text-anchor="end" fill="#141414" stroke="#141414" stroke-width="0.1">1.16</text>
<text transform="translate(958.20,420.92) scale(0.905,1)" font-size="7.75" text-anchor="end" fill="#141414" stroke="#141414" stroke-width="0.1">1.73</text>
<text transform="translate(623.00,432.46)" font-size="7.75" text-anchor="middle" fill="#141414" stroke="#141414" stroke-width="0.12">15</text>
<text transform="translate(633.70,432.46)" font-size="7.75" text-anchor="start" fill="#141414" stroke="#141414" stroke-width="0.15">Keonjhar</text>
<text transform="translate(712.40,432.46) scale(0.905,1)" font-size="7.75" text-anchor="end" fill="#141414" stroke="#141414" stroke-width="0.1">18.42</text>
<text transform="translate(745.20,432.46) scale(0.905,1)" font-size="7.75" text-anchor="end" fill="#141414" stroke="#141414" stroke-width="0.1">16.21</text>
<text transform="translate(779.40,432.46) scale(0.905,1)" font-size="7.75" text-anchor="end" fill="#141414" stroke="#141414" stroke-width="0.1">2.37</text>
<text transform="translate(823.40,432.46) scale(0.905,1)" font-size="7.75" text-anchor="end" fill="#141414" stroke="#141414" stroke-width="0.1">2.71</text>
<text transform="translate(856.40,432.46) scale(0.905,1)" font-size="7.75" text-anchor="end" fill="#141414" stroke="#141414" stroke-width="0.1">2.76</text>
<text transform="translate(878.30,432.46) scale(0.905,1)" font-size="7.75" text-anchor="end" fill="#141414" stroke="#141414" stroke-width="0.1">0.08</text>
<text transform="translate(902.30,432.46) scale(0.905,1)" font-size="7.75" text-anchor="end" fill="#141414" stroke="#141414" stroke-width="0.1">2.84</text>
<text transform="translate(930.30,432.46) scale(0.905,1)" font-size="7.75" text-anchor="end" fill="#141414" stroke="#141414" stroke-width="0.1">0.13</text>
<text transform="translate(958.20,432.46) scale(0.905,1)" font-size="7.75" text-anchor="end" fill="#141414" stroke="#141414" stroke-width="0.1">0.19</text>
<text transform="translate(623.00,444.00)" font-size="7.75" text-anchor="middle" fill="#141414" stroke="#141414" stroke-width="0.12">16</text>
<text transform="translate(633.70,444.00)" font-size="7.75" text-anchor="start" fill="#141414" stroke="#141414" stroke-width="0.15">Koraput</text>
<text transform="translate(712.40,444.00) scale(0.905,1)" font-size="7.75" text-anchor="end" fill="#141414" stroke="#141414" stroke-width="0.1">14.09</text>
<text transform="translate(745.20,444.00) scale(0.905,1)" font-size="7.75" text-anchor="end" fill="#141414" stroke="#141414" stroke-width="0.1">12.40</text>
<text transform="translate(779.40,444.00) scale(0.905,1)" font-size="7.75" text-anchor="end" fill="#141414" stroke="#141414" stroke-width="0.1">1.81</text>
<text transform="translate(823.40,444.00) scale(0.905,1)" font-size="7.75" text-anchor="end" fill="#141414" stroke="#141414" stroke-width="0.1">2.07</text>
<text transform="translate(856.40,444.00) scale(0.905,1)" font-size="7.75" text-anchor="end" fill="#141414" stroke="#141414" stroke-width="0.1">2.08</text>
<text transform="translate(878.30,444.00) scale(0.905,1)" font-size="7.75" text-anchor="end" fill="#141414" stroke="#141414" stroke-width="0.1">0.34</text>
<text transform="translate(902.30,444.00) scale(0.905,1)" font-size="7.75" text-anchor="end" fill="#141414" stroke="#141414" stroke-width="0.1">2.42</text>
<text transform="translate(930.30,444.00) scale(0.905,1)" font-size="7.75" text-anchor="end" fill="#141414" stroke="#141414" stroke-width="0.1">0.35</text>
<text transform="translate(958.20,444.00) scale(0.905,1)" font-size="7.75" text-anchor="end" fill="#141414" stroke="#141414" stroke-width="0.1">0.52</text>
<text transform="translate(623.00,455.54)" font-size="7.75" text-anchor="middle" fill="#141414" stroke="#141414" stroke-width="0.12">17</text>
<text transform="translate(633.70,455.54)" font-size="7.75" text-anchor="start" fill="#141414" stroke="#141414" stroke-width="0.15">Malkangiri</text>
<text transform="translate(712.40,455.54) scale(0.905,1)" font-size="7.75" text-anchor="end" fill="#141414" stroke="#141414" stroke-width="0.1">6.31</text>
<text transform="translate(745.20,455.54) scale(0.905,1)" font-size="7.75" text-anchor="end" fill="#141414" stroke="#141414" stroke-width="0.1">5.55</text>
<text transform="translate(779.40,455.54) scale(0.905,1)" font-size="7.75" text-anchor="end" fill="#141414" stroke="#141414" stroke-width="0.1">0.81</text>
<text transform="translate(823.40,455.54) scale(0.905,1)" font-size="7.75" text-anchor="end" fill="#141414" stroke="#141414" stroke-width="0.1">0.93</text>
<text transform="translate(856.40,455.54) scale(0.905,1)" font-size="7.75" text-anchor="end" fill="#141414" stroke="#141414" stroke-width="0.1">1.78</text>
<text transform="translate(878.30,455.54) scale(0.905,1)" font-size="7.75" text-anchor="end" fill="#141414" stroke="#141414" stroke-width="0.1">0.04</text>
<text transform="translate(902.30,455.54) scale(0.905,1)" font-size="7.75" text-anchor="end" fill="#141414" stroke="#141414" stroke-width="0.1">1.82</text>
<text transform="translate(930.30,455.54) scale(0.905,1)" font-size="7.75" text-anchor="end" fill="#141414" stroke="#141414" stroke-width="0.1">0.89</text>
<text transform="translate(958.20,455.54) scale(0.905,1)" font-size="7.75" text-anchor="end" fill="#141414" stroke="#141414" stroke-width="0.1">1.33</text>
<text transform="translate(623.00,467.08)" font-size="7.75" text-anchor="middle" fill="#141414" stroke="#141414" stroke-width="0.12">18</text>
<text transform="translate(633.70,467.08)" font-size="7.75" text-anchor="start" fill="#141414" stroke="#141414" stroke-width="0.15">Nabarangpur</text>
<text transform="translate(712.40,467.08) scale(0.905,1)" font-size="7.75" text-anchor="end" fill="#141414" stroke="#141414" stroke-width="0.1">12.50</text>
<text transform="translate(745.20,467.08) scale(0.905,1)" font-size="7.75" text-anchor="end" fill="#141414" stroke="#141414" stroke-width="0.1">11.00</text>
<text transform="translate(779.40,467.08) scale(0.905,1)" font-size="7.75" text-anchor="end" fill="#141414" stroke="#141414" stroke-width="0.1">1.61</text>
<text transform="translate(823.40,467.08) scale(0.905,1)" font-size="7.75" text-anchor="end" fill="#141414" stroke="#141414" stroke-width="0.1">1.84</text>
<text transform="translate(856.40,467.08) scale(0.905,1)" font-size="7.75" text-anchor="end" fill="#141414" stroke="#141414" stroke-width="0.1">3.86</text>
<text transform="translate(878.30,467.08) scale(0.905,1)" font-size="7.75" text-anchor="end" fill="#141414" stroke="#141414" stroke-width="0.1">0.03</text>
<text transform="translate(902.30,467.08) scale(0.905,1)" font-size="7.75" text-anchor="end" fill="#141414" stroke="#141414" stroke-width="0.1">3.89</text>
<text transform="translate(930.30,467.08) scale(0.905,1)" font-size="7.75" text-anchor="end" fill="#141414" stroke="#141414" stroke-width="0.1">1.44</text>
<text transform="translate(958.20,467.08) scale(0.905,1)" font-size="7.75" text-anchor="end" fill="#141414" stroke="#141414" stroke-width="0.1">2.15</text>
<text transform="translate(623.00,478.62)" font-size="7.75" text-anchor="middle" fill="#141414" stroke="#141414" stroke-width="0.12">19</text>
<text transform="translate(633.70,478.62)" font-size="7.75" text-anchor="start" fill="#141414" stroke="#141414" stroke-width="0.15">Rayagada</text>
<text transform="translate(712.40,478.62) scale(0.905,1)" font-size="7.75" text-anchor="end" fill="#141414" stroke="#141414" stroke-width="0.1">9.83</text>
<text transform="translate(745.20,478.62) scale(0.905,1)" font-size="7.75" text-anchor="end" fill="#141414" stroke="#141414" stroke-width="0.1">8.65</text>
<text transform="translate(779.40,478.62) scale(0.905,1)" font-size="7.75" text-anchor="end" fill="#141414" stroke="#141414" stroke-width="0.1">1.26</text>
<text transform="translate(823.40,478.62) scale(0.905,1)" font-size="7.75" text-anchor="end" fill="#141414" stroke="#141414" stroke-width="0.1">1.44</text>
<text transform="translate(856.40,478.62) scale(0.905,1)" font-size="7.75" text-anchor="end" fill="#141414" stroke="#141414" stroke-width="0.1">1.15</text>
<text transform="translate(878.30,478.62) scale(0.905,1)" font-size="7.75" text-anchor="end" fill="#141414" stroke="#141414" stroke-width="0.1">0.03</text>
<text transform="translate(902.30,478.62) scale(0.905,1)" font-size="7.75" text-anchor="end" fill="#141414" stroke="#141414" stroke-width="0.1">1.18</text>
<text transform="translate(930.30,478.62) scale(0.905,1)" font-size="7.75" text-anchor="end" fill="#141414" stroke="#141414" stroke-width="0.1">-0.26</text>
<text transform="translate(958.20,478.62) scale(0.905,1)" font-size="7.75" text-anchor="end" fill="#141414" stroke="#141414" stroke-width="0.1">-0.39</text>
<text transform="translate(623.00,490.16)" font-size="7.75" text-anchor="middle" fill="#141414" stroke="#141414" stroke-width="0.12">20</text>
<text transform="translate(633.70,490.16)" font-size="7.75" text-anchor="start" fill="#141414" stroke="#141414" stroke-width="0.15">Mayurbhanj</text>
<text transform="translate(712.40,490.16) scale(0.905,1)" font-size="7.75" text-anchor="end" fill="#141414" stroke="#141414" stroke-width="0.1">25.61</text>
<text transform="translate(745.20,490.16) scale(0.905,1)" font-size="7.75" text-anchor="end" fill="#141414" stroke="#141414" stroke-width="0.1">22.54</text>
<text transform="translate(779.40,490.16) scale(0.905,1)" font-size="7.75" text-anchor="end" fill="#141414" stroke="#141414" stroke-width="0.1">3.29</text>
<text transform="translate(823.40,490.16) scale(0.905,1)" font-size="7.75" text-anchor="end" fill="#141414" stroke="#141414" stroke-width="0.1">3.76</text>
<text transform="translate(856.40,490.16) scale(0.905,1)" font-size="7.75" text-anchor="end" fill="#141414" stroke="#141414" stroke-width="0.1">4.90</text>
<text transform="translate(878.30,490.16) scale(0.905,1)" font-size="7.75" text-anchor="end" fill="#141414" stroke="#141414" stroke-width="0.1">0.08</text>
<text transform="translate(902.30,490.16) scale(0.905,1)" font-size="7.75" text-anchor="end" fill="#141414" stroke="#141414" stroke-width="0.1">4.98</text>
<text transform="translate(930.30,490.16) scale(0.905,1)" font-size="7.75" text-anchor="end" fill="#141414" stroke="#141414" stroke-width="0.1">1.22</text>
<text transform="translate(958.20,490.16) scale(0.905,1)" font-size="7.75" text-anchor="end" fill="#141414" stroke="#141414" stroke-width="0.1">1.82</text>
<text transform="translate(623.00,501.70)" font-size="7.75" text-anchor="middle" fill="#141414" stroke="#141414" stroke-width="0.12">21</text>
<text transform="translate(633.70,501.70)" font-size="7.75" text-anchor="start" fill="#141414" stroke="#141414" stroke-width="0.15">Kandhamal</text>
<text transform="translate(712.40,501.70) scale(0.905,1)" font-size="7.75" text-anchor="end" fill="#141414" stroke="#141414" stroke-width="0.1">7.45</text>
<text transform="translate(745.20,501.70) scale(0.905,1)" font-size="7.75" text-anchor="end" fill="#141414" stroke="#141414" stroke-width="0.1">6.56</text>
<text transform="translate(779.40,501.70) scale(0.905,1)" font-size="7.75" text-anchor="end" fill="#141414" stroke="#141414" stroke-width="0.1">0.96</text>
<text transform="translate(823.40,501.70) scale(0.905,1)" font-size="7.75" text-anchor="end" fill="#141414" stroke="#141414" stroke-width="0.1">1.10</text>
<text transform="translate(856.40,501.70) scale(0.905,1)" font-size="7.75" text-anchor="end" fill="#141414" stroke="#141414" stroke-width="0.1">0.70</text>
<text transform="translate(878.30,501.70) scale(0.905,1)" font-size="7.75" text-anchor="end" fill="#141414" stroke="#141414" stroke-width="0.1">0.01</text>
<text transform="translate(902.30,501.70) scale(0.905,1)" font-size="7.75" text-anchor="end" fill="#141414" stroke="#141414" stroke-width="0.1">0.71</text>
<text transform="translate(930.30,501.70) scale(0.905,1)" font-size="7.75" text-anchor="end" fill="#141414" stroke="#141414" stroke-width="0.1">-0.39</text>
<text transform="translate(958.20,501.70) scale(0.905,1)" font-size="7.75" text-anchor="end" fill="#141414" stroke="#141414" stroke-width="0.1">-0.58</text>
<text transform="translate(623.00,513.24)" font-size="7.75" text-anchor="middle" fill="#141414" stroke="#141414" stroke-width="0.12">22</text>
<text transform="translate(633.70,513.24)" font-size="7.75" text-anchor="start" fill="#141414" stroke="#141414" stroke-width="0.15">Boudh</text>
<text transform="translate(712.40,513.24) scale(0.905,1)" font-size="7.75" text-anchor="end" fill="#141414" stroke="#141414" stroke-width="0.1">4.51</text>
<text transform="translate(745.20,513.24) scale(0.905,1)" font-size="7.75" text-anchor="end" fill="#141414" stroke="#141414" stroke-width="0.1">3.97</text>
<text transform="translate(779.40,513.24) scale(0.905,1)" font-size="7.75" text-anchor="end" fill="#141414" stroke="#141414" stroke-width="0.1">0.58</text>
<text transform="translate(823.40,513.24) scale(0.905,1)" font-size="7.75" text-anchor="end" fill="#141414" stroke="#141414" stroke-width="0.1">0.66</text>
<text transform="translate(856.40,513.24) scale(0.905,1)" font-size="7.75" text-anchor="end" fill="#141414" stroke="#141414" stroke-width="0.1">1.73</text>
<text transform="translate(878.30,513.24) scale(0.905,1)" font-size="7.75" text-anchor="end" fill="#141414" stroke="#141414" stroke-width="0.1">0.03</text>
<text transform="translate(902.30,513.24) scale(0.905,1)" font-size="7.75" text-anchor="end" fill="#141414" stroke="#141414" stroke-width="0.1">1.76</text>
<text transform="translate(930.30,513.24) scale(0.905,1)" font-size="7.75" text-anchor="end" fill="#141414" stroke="#141414" stroke-width="0.1">1.10</text>
<text transform="translate(958.20,513.24) scale(0.905,1)" font-size="7.75" text-anchor="end" fill="#141414" stroke="#141414" stroke-width="0.1">1.64</text>
<text transform="translate(623.00,524.78)" font-size="7.75" text-anchor="middle" fill="#141414" stroke="#141414" stroke-width="0.12">23</text>
<text transform="translate(633.70,524.78)" font-size="7.75" text-anchor="start" fill="#141414" stroke="#141414" stroke-width="0.15">Puri</text>
<text transform="translate(712.40,524.78) scale(0.905,1)" font-size="7.75" text-anchor="end" fill="#141414" stroke="#141414" stroke-width="0.1">17.38</text>
<text transform="translate(745.20,524.78) scale(0.905,1)" font-size="7.75" text-anchor="end" fill="#141414" stroke="#141414" stroke-width="0.1">15.29</text>
<text transform="translate(779.40,524.78) scale(0.905,1)" font-size="7.75" text-anchor="end" fill="#141414" stroke="#141414" stroke-width="0.1">2.23</text>
<text transform="translate(823.40,524.78) scale(0.905,1)" font-size="7.75" text-anchor="end" fill="#141414" stroke="#141414" stroke-width="0.1">2.54</text>
<text transform="translate(856.40,524.78) scale(0.905,1)" font-size="7.75" text-anchor="end" fill="#141414" stroke="#141414" stroke-width="0.1">3.38</text>
<text transform="translate(878.30,524.78) scale(0.905,1)" font-size="7.75" text-anchor="end" fill="#141414" stroke="#141414" stroke-width="0.1">0.06</text>
<text transform="translate(902.30,524.78) scale(0.905,1)" font-size="7.75" text-anchor="end" fill="#141414" stroke="#141414" stroke-width="0.1">3.44</text>
<text transform="translate(930.30,524.78) scale(0.905,1)" font-size="7.75" text-anchor="end" fill="#141414" stroke="#141414" stroke-width="0.1">0.90</text>
<text transform="translate(958.20,524.78) scale(0.905,1)" font-size="7.75" text-anchor="end" fill="#141414" stroke="#141414" stroke-width="0.1">1.34</text>
<text transform="translate(623.00,536.32)" font-size="7.75" text-anchor="middle" fill="#141414" stroke="#141414" stroke-width="0.12">24</text>
<text transform="translate(633.70,536.32)" font-size="7.75" text-anchor="start" fill="#141414" stroke="#141414" stroke-width="0.15">Khordha</text>
<text transform="translate(712.40,536.32) scale(0.905,1)" font-size="7.75" text-anchor="end" fill="#141414" stroke="#141414" stroke-width="0.1">23.08</text>
<text transform="translate(745.20,536.32) scale(0.905,1)" font-size="7.75" text-anchor="end" fill="#141414" stroke="#141414" stroke-width="0.1">20.31</text>
<text transform="translate(779.40,536.32) scale(0.905,1)" font-size="7.75" text-anchor="end" fill="#141414" stroke="#141414" stroke-width="0.1">2.97</text>
<text transform="translate(823.40,536.32) scale(0.905,1)" font-size="7.75" text-anchor="end" fill="#141414" stroke="#141414" stroke-width="0.1">3.39</text>
<text transform="translate(856.40,536.32) scale(0.905,1)" font-size="7.75" text-anchor="end" fill="#141414" stroke="#141414" stroke-width="0.1">2.02</text>
<text transform="translate(878.30,536.32) scale(0.905,1)" font-size="7.75" text-anchor="end" fill="#141414" stroke="#141414" stroke-width="0.1">0.03</text>
<text transform="translate(902.30,536.32) scale(0.905,1)" font-size="7.75" text-anchor="end" fill="#141414" stroke="#141414" stroke-width="0.1">2.05</text>
<text transform="translate(930.30,536.32) scale(0.905,1)" font-size="7.75" text-anchor="end" fill="#141414" stroke="#141414" stroke-width="0.1">-1.34</text>
<text transform="translate(958.20,536.32) scale(0.905,1)" font-size="7.75" text-anchor="end" fill="#141414" stroke="#141414" stroke-width="0.1">-2.00</text>
<text transform="translate(623.00,547.86)" font-size="7.75" text-anchor="middle" fill="#141414" stroke="#141414" stroke-width="0.12">25</text>
<text transform="translate(633.70,547.86)" font-size="7.75" text-anchor="start" fill="#141414" stroke="#141414" stroke-width="0.15">Nayagarh</text>
<text transform="translate(712.40,547.86) scale(0.905,1)" font-size="7.75" text-anchor="end" fill="#141414" stroke="#141414" stroke-width="0.1">9.78</text>
<text transform="translate(745.20,547.86) scale(0.905,1)" font-size="7.75" text-anchor="end" fill="#141414" stroke="#141414" stroke-width="0.1">8.61</text>
<text transform="translate(779.40,547.86) scale(0.905,1)" font-size="7.75" text-anchor="end" fill="#141414" stroke="#141414" stroke-width="0.1">1.26</text>
<text transform="translate(823.40,547.86) scale(0.905,1)" font-size="7.75" text-anchor="end" fill="#141414" stroke="#141414" stroke-width="0.1">1.44</text>
<text transform="translate(856.40,547.86) scale(0.905,1)" font-size="7.75" text-anchor="end" fill="#141414" stroke="#141414" stroke-width="0.1">2.10</text>
<text transform="translate(878.30,547.86) scale(0.905,1)" font-size="7.75" text-anchor="end" fill="#141414" stroke="#141414" stroke-width="0.1">0.00</text>
<text transform="translate(902.30,547.86) scale(0.905,1)" font-size="7.75" text-anchor="end" fill="#141414" stroke="#141414" stroke-width="0.1">2.10</text>
<text transform="translate(930.30,547.86) scale(0.905,1)" font-size="7.75" text-anchor="end" fill="#141414" stroke="#141414" stroke-width="0.1">0.66</text>
<text transform="translate(958.20,547.86) scale(0.905,1)" font-size="7.75" text-anchor="end" fill="#141414" stroke="#141414" stroke-width="0.1">0.99</text>
<text transform="translate(623.00,559.40)" font-size="7.75" text-anchor="middle" fill="#141414" stroke="#141414" stroke-width="0.12">26</text>
<text transform="translate(633.70,559.40)" font-size="7.75" text-anchor="start" fill="#141414" stroke="#141414" stroke-width="0.15">Sambalpur</text>
<text transform="translate(712.40,559.40) scale(0.905,1)" font-size="7.75" text-anchor="end" fill="#141414" stroke="#141414" stroke-width="0.1">10.62</text>
<text transform="translate(745.20,559.40) scale(0.905,1)" font-size="7.75" text-anchor="end" fill="#141414" stroke="#141414" stroke-width="0.1">9.35</text>
<text transform="translate(779.40,559.40) scale(0.905,1)" font-size="7.75" text-anchor="end" fill="#141414" stroke="#141414" stroke-width="0.1">1.37</text>
<text transform="translate(823.40,559.40) scale(0.905,1)" font-size="7.75" text-anchor="end" fill="#141414" stroke="#141414" stroke-width="0.1">1.57</text>
<text transform="translate(856.40,559.40) scale(0.905,1)" font-size="7.75" text-anchor="end" fill="#141414" stroke="#141414" stroke-width="0.1">3.49</text>
<text transform="translate(878.30,559.40) scale(0.905,1)" font-size="7.75" text-anchor="end" fill="#141414" stroke="#141414" stroke-width="0.1">0.67</text>
<text transform="translate(902.30,559.40) scale(0.905,1)" font-size="7.75" text-anchor="end" fill="#141414" stroke="#141414" stroke-width="0.1">4.16</text>
<text transform="translate(930.30,559.40) scale(0.905,1)" font-size="7.75" text-anchor="end" fill="#141414" stroke="#141414" stroke-width="0.1">2.59</text>
<text transform="translate(958.20,559.40) scale(0.905,1)" font-size="7.75" text-anchor="end" fill="#141414" stroke="#141414" stroke-width="0.1">3.87</text>
<text transform="translate(623.00,570.94)" font-size="7.75" text-anchor="middle" fill="#141414" stroke="#141414" stroke-width="0.12">27</text>
<text transform="translate(633.70,570.94)" font-size="7.75" text-anchor="start" fill="#141414" stroke="#141414" stroke-width="0.15">Bargarh</text>
<text transform="translate(712.40,570.94) scale(0.905,1)" font-size="7.75" text-anchor="end" fill="#141414" stroke="#141414" stroke-width="0.1">15.00</text>
<text transform="translate(745.20,570.94) scale(0.905,1)" font-size="7.75" text-anchor="end" fill="#141414" stroke="#141414" stroke-width="0.1">13.20</text>
<text transform="translate(779.40,570.94) scale(0.905,1)" font-size="7.75" text-anchor="end" fill="#141414" stroke="#141414" stroke-width="0.1">1.93</text>
<text transform="translate(823.40,570.94) scale(0.905,1)" font-size="7.75" text-anchor="end" fill="#141414" stroke="#141414" stroke-width="0.1">2.21</text>
<text transform="translate(856.40,570.94) scale(0.905,1)" font-size="7.75" text-anchor="end" fill="#141414" stroke="#141414" stroke-width="0.1">6.67</text>
<text transform="translate(878.30,570.94) scale(0.905,1)" font-size="7.75" text-anchor="end" fill="#141414" stroke="#141414" stroke-width="0.1">2.85</text>
<text transform="translate(902.30,570.94) scale(0.905,1)" font-size="7.75" text-anchor="end" fill="#141414" stroke="#141414" stroke-width="0.1">9.52</text>
<text transform="translate(930.30,570.94) scale(0.905,1)" font-size="7.75" text-anchor="end" fill="#141414" stroke="#141414" stroke-width="0.1">7.31</text>
<text transform="translate(958.20,570.94) scale(0.905,1)" font-size="7.75" text-anchor="end" fill="#141414" stroke="#141414" stroke-width="0.1">10.91</text>
<text transform="translate(623.00,582.48)" font-size="7.75" text-anchor="middle" fill="#141414" stroke="#141414" stroke-width="0.12">28</text>
<text transform="translate(633.70,582.48)" font-size="7.75" text-anchor="start" fill="#141414" stroke="#141414" stroke-width="0.15">Deogarh</text>
<text transform="translate(712.40,582.48) scale(0.905,1)" font-size="7.75" text-anchor="end" fill="#141414" stroke="#141414" stroke-width="0.1">3.18</text>
<text transform="translate(745.20,582.48) scale(0.905,1)" font-size="7.75" text-anchor="end" fill="#141414" stroke="#141414" stroke-width="0.1">2.80</text>
<text transform="translate(779.40,582.48) scale(0.905,1)" font-size="7.75" text-anchor="end" fill="#141414" stroke="#141414" stroke-width="0.1">0.41</text>
<text transform="translate(823.40,582.48) scale(0.905,1)" font-size="7.75" text-anchor="end" fill="#141414" stroke="#141414" stroke-width="0.1">0.47</text>
<text transform="translate(856.40,582.48) scale(0.905,1)" font-size="7.75" text-anchor="end" fill="#141414" stroke="#141414" stroke-width="0.1">1.12</text>
<text transform="translate(878.30,582.48) scale(0.905,1)" font-size="7.75" text-anchor="end" fill="#141414" stroke="#141414" stroke-width="0.1">0.07</text>
<text transform="translate(902.30,582.48) scale(0.905,1)" font-size="7.75" text-anchor="end" fill="#141414" stroke="#141414" stroke-width="0.1">1.19</text>
<text transform="translate(930.30,582.48) scale(0.905,1)" font-size="7.75" text-anchor="end" fill="#141414" stroke="#141414" stroke-width="0.1">0.72</text>
<text transform="translate(958.20,582.48) scale(0.905,1)" font-size="7.75" text-anchor="end" fill="#141414" stroke="#141414" stroke-width="0.1">1.07</text>
<text transform="translate(623.00,594.02)" font-size="7.75" text-anchor="middle" fill="#141414" stroke="#141414" stroke-width="0.12">29</text>
<text transform="translate(633.70,594.02)" font-size="7.75" text-anchor="start" fill="#141414" stroke="#141414" stroke-width="0.15">Jharsuguda</text>
<text transform="translate(712.40,594.02) scale(0.905,1)" font-size="7.75" text-anchor="end" fill="#141414" stroke="#141414" stroke-width="0.1">5.91</text>
<text transform="translate(745.20,594.02) scale(0.905,1)" font-size="7.75" text-anchor="end" fill="#141414" stroke="#141414" stroke-width="0.1">5.20</text>
<text transform="translate(779.40,594.02) scale(0.905,1)" font-size="7.75" text-anchor="end" fill="#141414" stroke="#141414" stroke-width="0.1">0.76</text>
<text transform="translate(823.40,594.02) scale(0.905,1)" font-size="7.75" text-anchor="end" fill="#141414" stroke="#141414" stroke-width="0.1">0.87</text>
<text transform="translate(856.40,594.02) scale(0.905,1)" font-size="7.75" text-anchor="end" fill="#141414" stroke="#141414" stroke-width="0.1">0.99</text>
<text transform="translate(878.30,594.02) scale(0.905,1)" font-size="7.75" text-anchor="end" fill="#141414" stroke="#141414" stroke-width="0.1">0.01</text>
<text transform="translate(902.30,594.02) scale(0.905,1)" font-size="7.75" text-anchor="end" fill="#141414" stroke="#141414" stroke-width="0.1">1.00</text>
<text transform="translate(930.30,594.02) scale(0.905,1)" font-size="7.75" text-anchor="end" fill="#141414" stroke="#141414" stroke-width="0.1">0.13</text>
<text transform="translate(958.20,594.02) scale(0.905,1)" font-size="7.75" text-anchor="end" fill="#141414" stroke="#141414" stroke-width="0.1">0.19</text>
<text transform="translate(623.00,605.56)" font-size="7.75" text-anchor="middle" fill="#141414" stroke="#141414" stroke-width="0.12">30</text>
<text transform="translate(633.70,605.56)" font-size="7.75" text-anchor="start" fill="#141414" stroke="#141414" stroke-width="0.15">Sundargarh</text>
<text transform="translate(712.40,605.56) scale(0.905,1)" font-size="7.75" text-anchor="end" fill="#141414" stroke="#141414" stroke-width="0.1">21.21</text>
<text transform="translate(745.20,605.56) scale(0.905,1)" font-size="7.75" text-anchor="end" fill="#141414" stroke="#141414" stroke-width="0.1">18.66</text>
<text transform="translate(779.40,605.56) scale(0.905,1)" font-size="7.75" text-anchor="end" fill="#141414" stroke="#141414" stroke-width="0.1">2.72</text>
<text transform="translate(823.40,605.56) scale(0.905,1)" font-size="7.75" text-anchor="end" fill="#141414" stroke="#141414" stroke-width="0.1">3.11</text>
<text transform="translate(856.40,605.56) scale(0.905,1)" font-size="7.75" text-anchor="end" fill="#141414" stroke="#141414" stroke-width="0.1">4.72</text>
<text transform="translate(878.30,605.56) scale(0.905,1)" font-size="7.75" text-anchor="end" fill="#141414" stroke="#141414" stroke-width="0.1">0.02</text>
<text transform="translate(902.30,605.56) scale(0.905,1)" font-size="7.75" text-anchor="end" fill="#141414" stroke="#141414" stroke-width="0.1">4.74</text>
<text transform="translate(930.30,605.56) scale(0.905,1)" font-size="7.75" text-anchor="end" fill="#141414" stroke="#141414" stroke-width="0.1">1.63</text>
<text transform="translate(958.20,605.56) scale(0.905,1)" font-size="7.75" text-anchor="end" fill="#141414" stroke="#141414" stroke-width="0.1">2.43</text>
<text transform="translate(636.60,616.70)" font-size="7.6" text-anchor="start" fill="#141414" font-weight="700" stroke="#141414" stroke-width="0.15" textLength="25.30" lengthAdjust="spacingAndGlyphs">ODISHA</text>
<text transform="translate(712.40,616.70) scale(0.9,1)" font-size="7.6" text-anchor="end" fill="#141414" font-weight="700" stroke="#141414" stroke-width="0.15">427.80</text>
<text transform="translate(745.20,616.70) scale(0.9,1)" font-size="7.6" text-anchor="end" fill="#141414" font-weight="700" stroke="#141414" stroke-width="0.15">376.49</text>
<text transform="translate(779.40,616.70) scale(0.9,1)" font-size="7.6" text-anchor="end" fill="#141414" font-weight="700" stroke="#141414" stroke-width="0.15">54.99</text>
<text transform="translate(823.40,616.70) scale(0.9,1)" font-size="7.6" text-anchor="end" fill="#141414" font-weight="700" stroke="#141414" stroke-width="0.15">62.85</text>
<text transform="translate(856.40,616.70) scale(0.9,1)" font-size="7.6" text-anchor="end" fill="#141414" font-weight="700" stroke="#141414" stroke-width="0.15">86.29</text>
<text transform="translate(878.30,616.70) scale(0.9,1)" font-size="7.6" text-anchor="end" fill="#141414" font-weight="700" stroke="#141414" stroke-width="0.15">8.68</text>
<text transform="translate(902.30,616.70) scale(0.9,1)" font-size="7.6" text-anchor="end" fill="#141414" font-weight="700" stroke="#141414" stroke-width="0.15">94.97</text>
<text transform="translate(930.30,616.70) scale(0.9,1)" font-size="7.6" text-anchor="end" fill="#141414" font-weight="700" stroke="#141414" stroke-width="0.15">32.11</text>
<text transform="translate(958.20,616.70) scale(0.9,1)" font-size="7.6" text-anchor="end" fill="#141414" font-weight="700" stroke="#141414" stroke-width="0.15">47.92</text>
<path d="M768 628.4H779.4M794.8 628.4H806" stroke="#18181c" stroke-width="0.95" fill="none"/>
<path d="M779.6 626v4.3h1.9v2.3h11.4v-2.3h1.9V626" stroke="#18181c" stroke-width="0.9" fill="none"/>
<path d="M781.4 624.1v1.9M792.6 624.1v1.9" stroke="#18181c" stroke-width="0.9" fill="none"/>
<text transform="translate(787.20,630.80)" font-size="5.6" text-anchor="middle" fill="#141414" stroke="#141414" stroke-width="0.22" opacity="0.6">57</text>
<rect x="612.95" y="180.85" width="2.1" height="440.1" fill="#ff0000"/>
<rect x="958.9" y="180.85" width="2.1" height="440.1" fill="#ff0000"/>
<rect x="612.95" y="180.85" width="348.05" height="1.2" fill="#ff0000"/>
<rect x="612.95" y="619.0" width="348.05" height="1.95" fill="#ff0000"/>
<rect x="578.5" y="92.5" width="418.0" height="591.0" fill="none" stroke="#000" stroke-width="1.11"/>
<line x1="573.64" y1="92.5" x2="578.5" y2="92.5" stroke="#000" stroke-width="1.11"/>
<text transform="translate(570.30,97.80) scale(1.08,1)" font-size="13.8" letter-spacing="0.4" text-anchor="end" fill="#000">0</text>
<line x1="573.64" y1="176.5" x2="578.5" y2="176.5" stroke="#000" stroke-width="1.11"/>
<text transform="translate(568.60,181.80) scale(1.08,1)" font-size="13.8" letter-spacing="0.4" text-anchor="end" fill="#000">1000</text>
<line x1="573.64" y1="260.5" x2="578.5" y2="260.5" stroke="#000" stroke-width="1.11"/>
<text transform="translate(568.60,265.80) scale(1.08,1)" font-size="13.8" letter-spacing="0.4" text-anchor="end" fill="#000">2000</text>
<line x1="573.64" y1="345.5" x2="578.5" y2="345.5" stroke="#000" stroke-width="1.11"/>
<text transform="translate(568.60,350.80) scale(1.08,1)" font-size="13.8" letter-spacing="0.4" text-anchor="end" fill="#000">3000</text>
<line x1="573.64" y1="429.5" x2="578.5" y2="429.5" stroke="#000" stroke-width="1.11"/>
<text transform="translate(568.60,434.80) scale(1.08,1)" font-size="13.8" letter-spacing="0.4" text-anchor="end" fill="#000">4000</text>
<line x1="573.64" y1="513.5" x2="578.5" y2="513.5" stroke="#000" stroke-width="1.11"/>
<text transform="translate(568.60,518.80) scale(1.08,1)" font-size="13.8" letter-spacing="0.4" text-anchor="end" fill="#000">5000</text>
<line x1="573.64" y1="597.5" x2="578.5" y2="597.5" stroke="#000" stroke-width="1.11"/>
<text transform="translate(568.60,602.80) scale(1.08,1)" font-size="13.8" letter-spacing="0.4" text-anchor="end" fill="#000">6000</text>
<line x1="573.64" y1="681.5" x2="578.5" y2="681.5" stroke="#000" stroke-width="1.11"/>
<text transform="translate(568.60,686.80) scale(1.08,1)" font-size="13.8" letter-spacing="0.4" text-anchor="end" fill="#000">7000</text>
<line x1="579.5" y1="683.5" x2="579.5" y2="688.70" stroke="#000" stroke-width="1.11"/>
<text transform="translate(579.75,702.80) scale(1.08,1)" font-size="13.8" letter-spacing="0.4" text-anchor="middle" fill="#000">0</text>
<line x1="663.5" y1="683.5" x2="663.5" y2="688.70" stroke="#000" stroke-width="1.11"/>
<text transform="translate(662.90,702.80) scale(1.08,1)" font-size="13.8" letter-spacing="0.4" text-anchor="middle" fill="#000">1000</text>
<line x1="747.5" y1="683.5" x2="747.5" y2="688.70" stroke="#000" stroke-width="1.11"/>
<text transform="translate(746.90,702.80) scale(1.08,1)" font-size="13.8" letter-spacing="0.4" text-anchor="middle" fill="#000">2000</text>
<line x1="831.5" y1="683.5" x2="831.5" y2="688.70" stroke="#000" stroke-width="1.11"/>
<text transform="translate(830.90,702.80) scale(1.08,1)" font-size="13.8" letter-spacing="0.4" text-anchor="middle" fill="#000">3000</text>
<line x1="915.5" y1="683.5" x2="915.5" y2="688.70" stroke="#000" stroke-width="1.11"/>
<text transform="translate(914.90,702.80) scale(1.08,1)" font-size="13.8" letter-spacing="0.4" text-anchor="middle" fill="#000">4000</text>
</svg>
</body>
</html>
